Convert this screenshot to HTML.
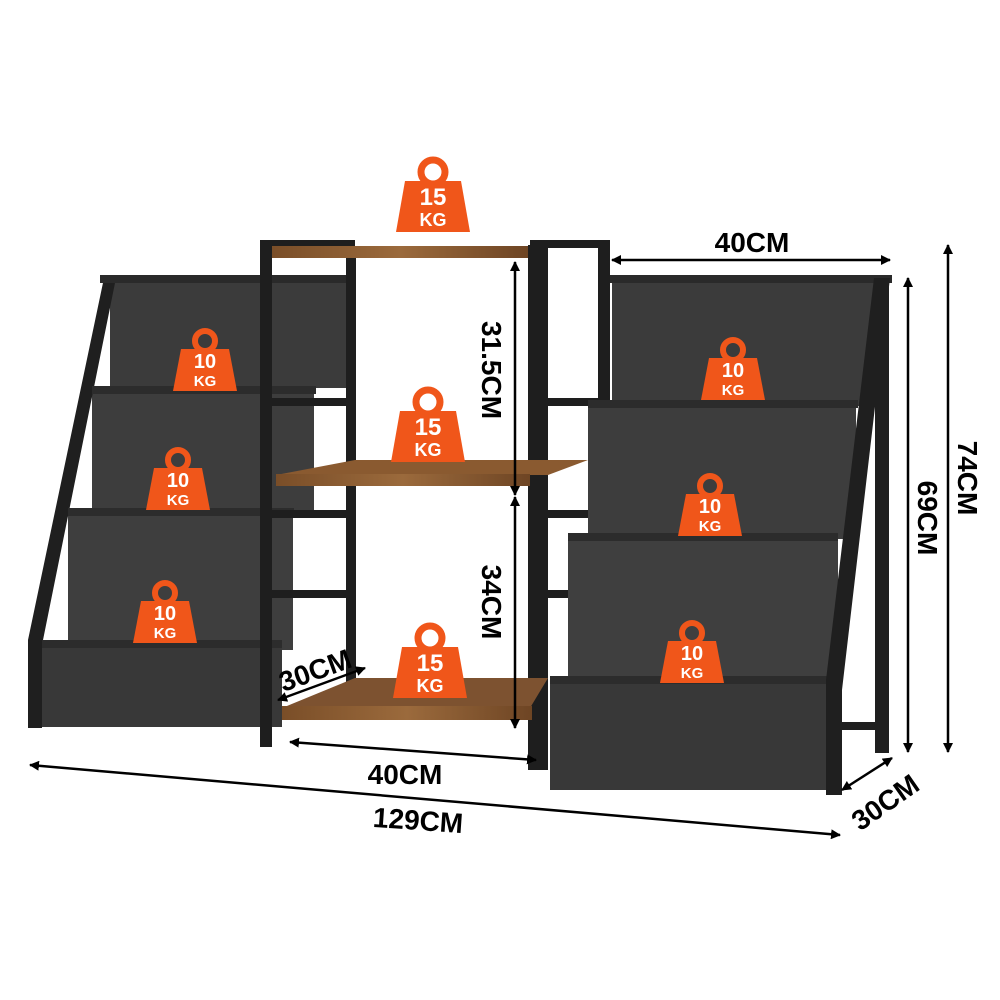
<!DOCTYPE html>
<html><head><meta charset="utf-8"><style>
html,body{margin:0;padding:0;background:#fff;}
svg{display:block}
text{font-family:"Liberation Sans",sans-serif;font-weight:bold;}
</style></head><body>
<svg width="1000" height="1000" viewBox="0 0 1000 1000" xmlns="http://www.w3.org/2000/svg">
<defs>
<marker id="a" markerWidth="10" markerHeight="10" refX="9" refY="5" orient="auto-start-reverse" markerUnits="userSpaceOnUse"><path d="M0,0 L10,5 L0,10 z" fill="#000"/></marker>
<linearGradient id="wood" x1="0" y1="0" x2="1" y2="0"><stop offset="0" stop-color="#7a4e28"/><stop offset="0.5" stop-color="#9b6a3c"/><stop offset="1" stop-color="#6e4524"/></linearGradient>
<g id="w10"><circle cx="0" cy="-22" r="10" fill="none" stroke="#f0561a" stroke-width="6"/><path d="M-24,-14 L24,-14 L32,28 L-32,28 z" fill="#f0561a"/><text x="0" y="5" font-size="20" fill="#fff" text-anchor="middle">10</text><text x="0" y="23" font-size="15" fill="#fff" text-anchor="middle">KG</text></g>
<g id="w15"><circle cx="0" cy="-26" r="12" fill="none" stroke="#f0561a" stroke-width="7"/><path d="M-28,-17 L28,-17 L37,34 L-37,34 z" fill="#f0561a"/><text x="0" y="7" font-size="24" fill="#fff" text-anchor="middle">15</text><text x="0" y="28" font-size="18" fill="#fff" text-anchor="middle">KG</text></g>
</defs>
<rect width="1000" height="1000" fill="#fff"/>

<!-- LEFT BOOKSHELF -->
<g>
<rect x="110" y="278" width="240" height="110" fill="#3b3b3b"/>
<rect x="92" y="388" width="222" height="122" fill="#3d3d3d"/>
<rect x="68" y="510" width="225" height="140" fill="#3e3e3e"/>
<rect x="42" y="642" width="240" height="85" fill="#383838"/>
<path d="M28,640 L104,278 L116,278 L42,645 L42,728 L28,728 z" fill="#1f1f1f"/>
<rect x="100" y="275" width="250" height="8" fill="#2a2a2a"/>
<rect x="92" y="386" width="224" height="8" fill="#2c2c2c"/>
<rect x="68" y="508" width="226" height="8" fill="#2c2c2c"/>
<rect x="42" y="640" width="240" height="8" fill="#2c2c2c"/>
</g>

<!-- CENTER SHELF -->
<g fill="#1e1e1e">
<rect x="260" y="245" width="12" height="502"/>
<rect x="346" y="252" width="10" height="440"/>
<rect x="528" y="245" width="20" height="525"/>
<rect x="598" y="245" width="12" height="420"/>
<rect x="272" y="398" width="84" height="8"/>
<rect x="272" y="510" width="84" height="8"/>
<rect x="272" y="590" width="84" height="8"/>
<rect x="548" y="398" width="56" height="8"/>
<rect x="548" y="510" width="56" height="8"/>
<rect x="548" y="590" width="56" height="8"/>
<rect x="260" y="240" width="95" height="8"/>
<rect x="530" y="240" width="80" height="8"/>
</g>
<rect x="272" y="246" width="256" height="12" fill="url(#wood)"/>
<path d="M276,475 L355,460 L588,460 L548,475 z" fill="#8a5a30"/>
<rect x="276" y="474" width="254" height="12" fill="url(#wood)"/>
<path d="M282,708 L355,678 L548,678 L530,708 z" fill="#7d5230"/>
<rect x="282" y="706" width="250" height="14" fill="url(#wood)"/>

<!-- RIGHT BOOKSHELF -->
<g>
<rect x="612" y="278" width="270" height="128" fill="#3b3b3b"/>
<rect x="588" y="404" width="268" height="135" fill="#3d3d3d"/>
<rect x="568" y="537" width="270" height="150" fill="#3f3f3f"/>
<rect x="550" y="680" width="280" height="110" fill="#383838"/>
<rect x="610" y="275" width="282" height="8" fill="#2a2a2a"/>
<rect x="588" y="400" width="270" height="8" fill="#2c2c2c"/>
<rect x="568" y="533" width="270" height="8" fill="#2c2c2c"/>
<rect x="550" y="676" width="280" height="8" fill="#2c2c2c"/>
<path d="M826,795 L826,680 L874,278 L890,278 L842,690 L842,795 z" fill="#1f1f1f"/>
<rect x="875" y="278" width="14" height="475" fill="#1f1f1f"/>
<rect x="842" y="722" width="40" height="8" fill="#1f1f1f"/>
</g>

<!-- weights -->
<use href="#w10" x="205" y="363"/>
<use href="#w10" x="178" y="482"/>
<use href="#w10" x="165" y="615"/>
<use href="#w10" x="733" y="372"/>
<use href="#w10" x="710" y="508"/>
<use href="#w10" x="692" y="655"/>
<use href="#w15" x="433" y="198"/>
<use href="#w15" x="428" y="428"/>
<use href="#w15" x="430" y="664"/>

<!-- dimensions -->
<g stroke="#000" stroke-width="2.5" fill="none">
<line x1="30" y1="765" x2="840" y2="835" marker-start="url(#a)" marker-end="url(#a)"/>
<line x1="290" y1="742" x2="536" y2="760" marker-start="url(#a)" marker-end="url(#a)"/>
<line x1="278" y1="700" x2="365" y2="668" marker-start="url(#a)" marker-end="url(#a)"/>
<line x1="515" y1="262" x2="515" y2="495" marker-start="url(#a)" marker-end="url(#a)"/>
<line x1="515" y1="497" x2="515" y2="728" marker-start="url(#a)" marker-end="url(#a)"/>
<line x1="612" y1="260" x2="890" y2="260" marker-start="url(#a)" marker-end="url(#a)"/>
<line x1="908" y1="278" x2="908" y2="752" marker-start="url(#a)" marker-end="url(#a)"/>
<line x1="948" y1="245" x2="948" y2="752" marker-start="url(#a)" marker-end="url(#a)"/>
<line x1="842" y1="790" x2="892" y2="758" marker-start="url(#a)" marker-end="url(#a)"/>
</g>
<g fill="#000">
<text x="418" y="830" font-size="28" text-anchor="middle" transform="rotate(4 418 822)">129CM</text>
<text x="405" y="784" font-size="28" text-anchor="middle">40CM</text>
<text x="752" y="252" font-size="28" text-anchor="middle">40CM</text>
<text x="315" y="680" font-size="28" text-anchor="middle" transform="rotate(-20 315 670)">30CM</text>
<text x="885" y="812" font-size="28" text-anchor="middle" transform="rotate(-35 885 802)">30CM</text>
<text x="0" y="0" font-size="28" text-anchor="middle" transform="translate(482,370) rotate(90)">31.5CM</text>
<text x="0" y="0" font-size="28" text-anchor="middle" transform="translate(482,602) rotate(90)">34CM</text>
<text x="0" y="0" font-size="28" text-anchor="middle" transform="translate(918,518) rotate(90)">69CM</text>
<text x="0" y="0" font-size="28" text-anchor="middle" transform="translate(958,478) rotate(90)">74CM</text>
</g>
</svg>
</body></html>
